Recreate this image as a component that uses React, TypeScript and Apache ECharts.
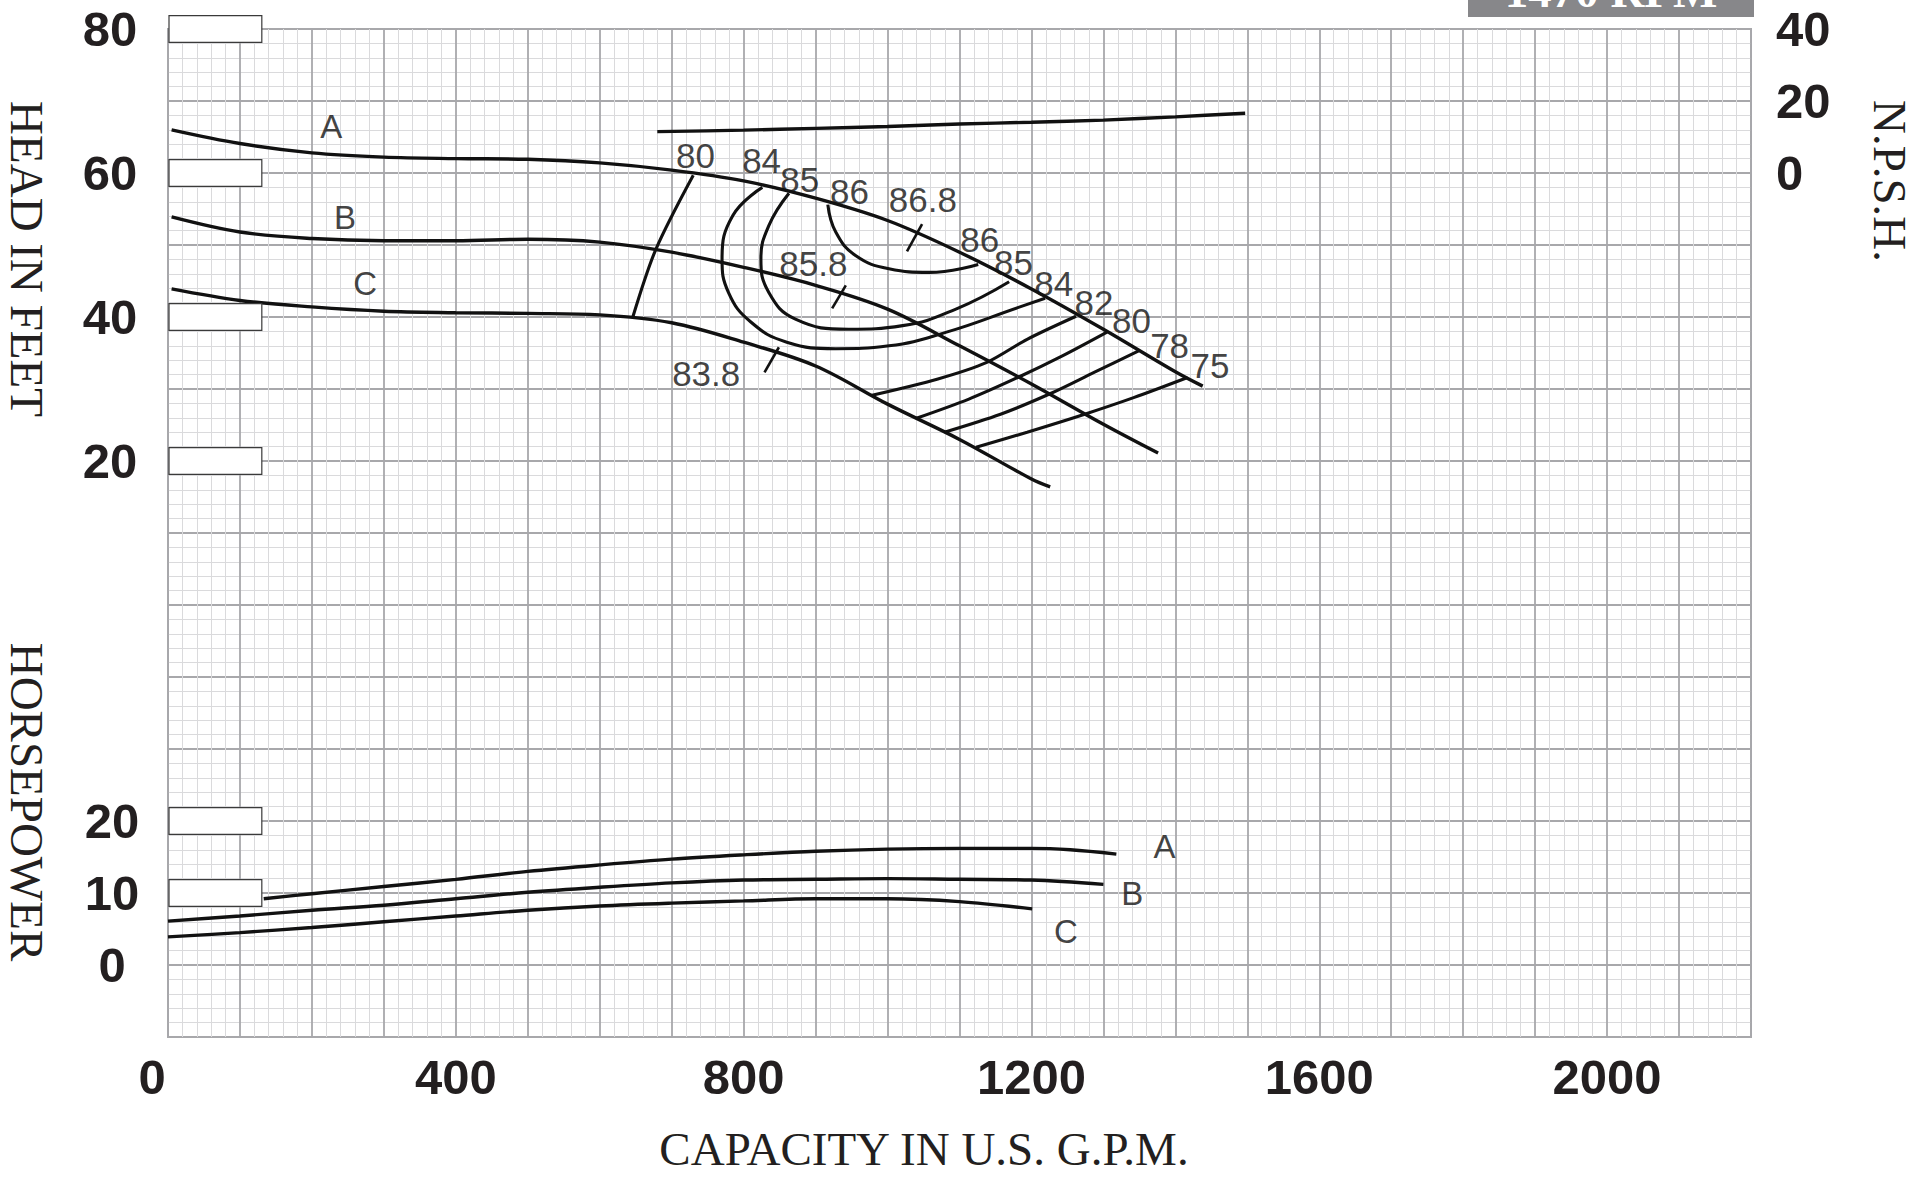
import React, { useEffect, useRef } from "react";
import * as echarts from "echarts";

const W = 1927;
const H = 1177;

// Axis tick labels shown
const xTickLabels = [0, 400, 800, 1200, 1600, 2000];
const headTickLabels = [20, 40, 60, 80];
const hpTickLabels = [0, 10, 20];
const npshTickLabels = [0, 20, 40];

// Head curves (GPM, feet)
const headA = [[5, 66.0], [100, 64.1], [200, 62.8], [300, 62.2], [400, 62.0], [500, 61.9], [600, 61.4], [700, 60.4], [800, 58.9], [900, 56.5], [1000, 53.4], [1100, 49.0], [1200, 43.9], [1300, 38.3], [1400, 32.4], [1438, 30.4]];
const headB = [[5, 53.9], [100, 51.8], [200, 50.9], [300, 50.6], [400, 50.6], [500, 50.8], [600, 50.4], [700, 49.0], [800, 46.9], [900, 44.4], [1000, 41.1], [1100, 36.0], [1200, 30.7], [1300, 25.1], [1376, 21.1]];
const headC = [[5, 43.9], [100, 42.3], [200, 41.4], [300, 40.8], [400, 40.6], [500, 40.5], [600, 40.3], [700, 39.2], [800, 36.5], [900, 33.2], [1000, 27.9], [1100, 23.0], [1200, 17.5], [1226, 16.4]];

// NPSH curve (GPM, feet)
const npsh = [[680, 11.5], [800, 11.9], [900, 12.4], [1000, 12.9], [1100, 13.6], [1200, 14.1], [1300, 14.7], [1400, 15.6], [1497, 16.6]];

// Horsepower curves (GPM, HP)
const hpA = [[133, 9.2], [200, 9.9], [300, 10.9], [400, 11.9], [500, 13.0], [600, 13.9], [700, 14.7], [800, 15.3], [900, 15.8], [1000, 16.1], [1100, 16.2], [1200, 16.2], [1254, 16.0], [1318, 15.4]];
const hpB = [[0, 6.1], [100, 6.8], [200, 7.6], [300, 8.3], [400, 9.2], [500, 10.1], [600, 10.8], [700, 11.4], [800, 11.8], [900, 11.9], [1000, 12.0], [1100, 11.9], [1200, 11.8], [1300, 11.2]];
const hpC = [[0, 3.9], [100, 4.5], [200, 5.2], [300, 6.0], [400, 6.8], [500, 7.6], [600, 8.2], [700, 8.6], [800, 8.9], [900, 9.2], [1000, 9.2], [1100, 8.8], [1201, 7.8]];

// Iso-efficiency curves (GPM, feet)
const eff80Left = [[730, 59.7], [678, 49.4], [646, 40.0]];
const eff84 = [[826, 58.0], [785, 54.1], [770, 48.1], [779, 43.4], [810, 39.3], [860, 36.5], [928, 35.6], [1002, 36.0], [1082, 37.9], [1181, 41.3], [1219, 42.6]];
const eff85 = [[863, 57.2], [835, 52.7], [824, 48.1], [835, 43.4], [872, 39.7], [946, 38.3], [1021, 38.8], [1095, 41.1], [1169, 44.9]];
const eff86 = [[917, 55.6], [928, 51.8], [956, 48.5], [1002, 46.7], [1058, 46.2], [1126, 47.3]];
const eff82 = [[1262, 40.1], [1194, 36.9], [1138, 33.7], [1070, 31.4], [977, 29.1]];
const eff80 = [[1305, 37.9], [1243, 34.6], [1181, 31.6], [1113, 28.6], [1039, 25.9]];
const eff78 = [[1349, 35.3], [1287, 32.3], [1225, 29.3], [1157, 26.5], [1079, 24.0]];
const eff75 = [[1417, 31.6], [1342, 28.8], [1274, 26.5], [1194, 24.0], [1123, 21.9]];

// Best-efficiency tick marks
const tick868 = [[1027, 49.1], [1048, 52.9]];
const tick858 = [[923, 41.2], [942, 44.4]];
const tick838 = [[829, 32.3], [849, 35.8]];

// Text labels
const effLabels = [
  { name: "80", value: [733, 62.5] },
  { name: "84", value: [825, 61.8] },
  { name: "85", value: [878, 59.1] },
  { name: "86", value: [947, 57.4] },
  { name: "86.8", value: [1049, 56.3] },
  { name: "86", value: [1128, 50.7] },
  { name: "85", value: [1175, 47.6] },
  { name: "84", value: [1231, 44.6] },
  { name: "82", value: [1287, 42.0] },
  { name: "80", value: [1339, 39.5] },
  { name: "78", value: [1392, 36.0] },
  { name: "75", value: [1448, 33.2] },
  { name: "85.8", value: [897, 47.4] },
  { name: "83.8", value: [748, 32.1] },
];
const headCurveLabels = [
  { name: "A", value: [227, 66.4] },
  { name: "B", value: [246, 53.8] },
  { name: "C", value: [274, 44.6] },
];
const hpCurveLabels = [
  { name: "A", value: [1385, 16.4] },
  { name: "B", value: [1340, 9.9] },
  { name: "C", value: [1248, 4.7] },
];

// Value boxes on left scale
const headBoxes = [80, 60, 40, 20];
const hpBoxes = [20, 10];

const MAJOR = "#a8a8ab";
const MINOR = "#dadadc";
const INK = "#111111";
const NUM_FONT = "'Liberation Sans', Arial, Helvetica, sans-serif";
const LBL_FONT = "'Liberation Sans', Arial, Helvetica, sans-serif";
const SERIF = "'Liberation Serif', 'Times New Roman', serif";

function curve(data: number[][], yAxisIndex = 0, smooth: number | boolean = 0.35, width = 3.4) {
  return {
    type: "line",
    data,
    yAxisIndex,
    smooth,
    symbol: "none",
    silent: true,
    lineStyle: { color: INK, width },
    z: 3,
  };
}

function labels(data: any[], yAxisIndex = 0, fontSize = 35) {
  return {
    type: "scatter",
    data,
    yAxisIndex,
    symbolSize: 1,
    itemStyle: { color: "rgba(0,0,0,0)" },
    silent: true,
    z: 4,
    label: {
      show: true,
      position: "inside",
      formatter: "{b}",
      color: INK,
      fontSize,
      fontFamily: LBL_FONT,
    },
  };
}

export default function App() {
  const ref = useRef<HTMLDivElement>(null);

  useEffect(() => {
    if (!ref.current) return;
    const chart = echarts.init(ref.current, null, { renderer: "svg" });

    const numLabel = {
      fontFamily: NUM_FONT,
      fontWeight: "bold" as const,
      fontSize: 49,
      color: "#231f20",
    };

    const option: any = {
      animation: false,
      backgroundColor: "#ffffff",
      grid: {
        left: 168,
        right: 176,
        top: 29,
        bottom: 140,
        show: true,
        borderColor: MAJOR,
        borderWidth: 2,
        backgroundColor: "transparent",
      },
      xAxis: {
        type: "value",
        min: 0,
        max: 2200,
        interval: 100,
        axisLine: { show: false },
        axisTick: { show: false },
        splitLine: { show: true, lineStyle: { color: MAJOR, width: 1.8 } },
        minorTick: { show: false, splitNumber: 5 },
        minorSplitLine: { show: true, lineStyle: { color: MINOR, width: 1 } },
        axisLabel: {
          ...numLabel,
          margin: 15,
          formatter: (v: number) =>
            xTickLabels.includes(v) ? (v === 0 ? "{z|0}" : String(v)) : "",
          rich: {
            z: { ...numLabel, padding: [0, 32, 0, 0] },
          },
        },
      },
      yAxis: [
        {
          type: "value",
          min: -60,
          max: 80,
          interval: 10,
          position: "left",
          axisLine: { show: false },
          axisTick: { show: false },
          splitLine: { show: true, lineStyle: { color: MAJOR, width: 1.8 } },
          minorTick: { show: false, splitNumber: 5 },
          minorSplitLine: { show: true, lineStyle: { color: MINOR, width: 1 } },
          axisLabel: {
            ...numLabel,
            align: "center",
            margin: 58,
            formatter: (v: number) => (headTickLabels.includes(v) ? String(v) : ""),
          },
        },
        {
          type: "value",
          min: -10,
          max: 130,
          interval: 10,
          position: "left",
          axisLine: { show: false },
          axisTick: { show: false },
          splitLine: { show: false },
          axisLabel: {
            ...numLabel,
            align: "center",
            margin: 56,
            formatter: (v: number) => (hpTickLabels.includes(v) ? String(v) : ""),
          },
        },
        {
          type: "value",
          min: -240,
          max: 40,
          interval: 20,
          position: "right",
          axisLine: { show: false },
          axisTick: { show: false },
          splitLine: { show: false },
          axisLabel: {
            ...numLabel,
            align: "left",
            margin: 25,
            formatter: (v: number) => (npshTickLabels.includes(v) ? String(v) : ""),
          },
        },
      ],
      series: [
        curve(headA),
        curve(headB),
        curve(headC),
        curve(npsh, 2, 0.3),
        curve(hpA, 1),
        curve(hpB, 1),
        curve(hpC, 1),
        curve(eff80Left, 0, 0.3, 3.1),
        curve(eff84, 0, 0.45, 3.1),
        curve(eff85, 0, 0.45, 3.1),
        curve(eff86, 0, 0.45, 3.1),
        curve(eff82, 0, 0.3, 3.1),
        curve(eff80, 0, 0.3, 3.1),
        curve(eff78, 0, 0.3, 3.1),
        curve(eff75, 0, 0.3, 3.1),
        curve(tick868, 0, false, 2.6),
        curve(tick858, 0, false, 2.6),
        curve(tick838, 0, false, 2.6),
        labels(effLabels, 0, 35),
        labels(headCurveLabels, 0, 33),
        labels(hpCurveLabels, 1, 33),
      ],
    };

    chart.setOption(option);

    const boxes: any[] = [];
    const addBox = (v: number, yIdx: number) => {
      const p0 = chart.convertToPixel({ xAxisIndex: 0, yAxisIndex: yIdx }, [0, v + 1.85]) as number[];
      const p1 = chart.convertToPixel({ xAxisIndex: 0, yAxisIndex: yIdx }, [129, v - 1.85]) as number[];
      boxes.push({
        type: "rect",
        z: 20,
        shape: { x: p0[0] + 1, y: p0[1], width: p1[0] - p0[0], height: p1[1] - p0[1] },
        style: { fill: "#ffffff", stroke: "#3a3a3a", lineWidth: 1.2 },
      });
    };
    headBoxes.forEach((v) => addBox(v, 0));
    hpBoxes.forEach((v) => addBox(v, 1));

    const titleStyle = { fill: "#231f20", font: `47px ${SERIF}`, align: "center", verticalAlign: "middle" };

    chart.setOption({
      graphic: [
        ...boxes,
        {
          type: "text",
          x: 27,
          y: 259,
          rotation: -Math.PI / 2,
          style: { ...titleStyle, text: "HEAD IN FEET" },
        },
        {
          type: "text",
          x: 27,
          y: 802,
          rotation: -Math.PI / 2,
          style: { ...titleStyle, text: "HORSEPOWER" },
        },
        {
          type: "text",
          x: 1890,
          y: 181,
          rotation: -Math.PI / 2,
          style: { ...titleStyle, text: "N.P.S.H." },
        },
        {
          type: "text",
          x: 924,
          y: 1149,
          style: { ...titleStyle, font: `47px ${SERIF}`, text: "CAPACITY IN U.S. G.P.M." },
        },
        {
          type: "rect",
          shape: { x: 1468, y: -40, width: 286, height: 57 },
          style: { fill: "#87878a" },
        },
        {
          type: "text",
          x: 1611,
          y: -9,
          style: {
            text: "1470 RPM",
            fill: "#ffffff",
            font: `bold 47px ${SERIF}`,
            align: "center",
            verticalAlign: "middle",
          },
        },
      ],
    });

    return () => chart.dispose();
  }, []);

  return (
    <div
      ref={ref}
      style={{ position: "fixed", left: 0, top: 0, width: W, height: H, background: "#fff" }}
    />
  );
}
